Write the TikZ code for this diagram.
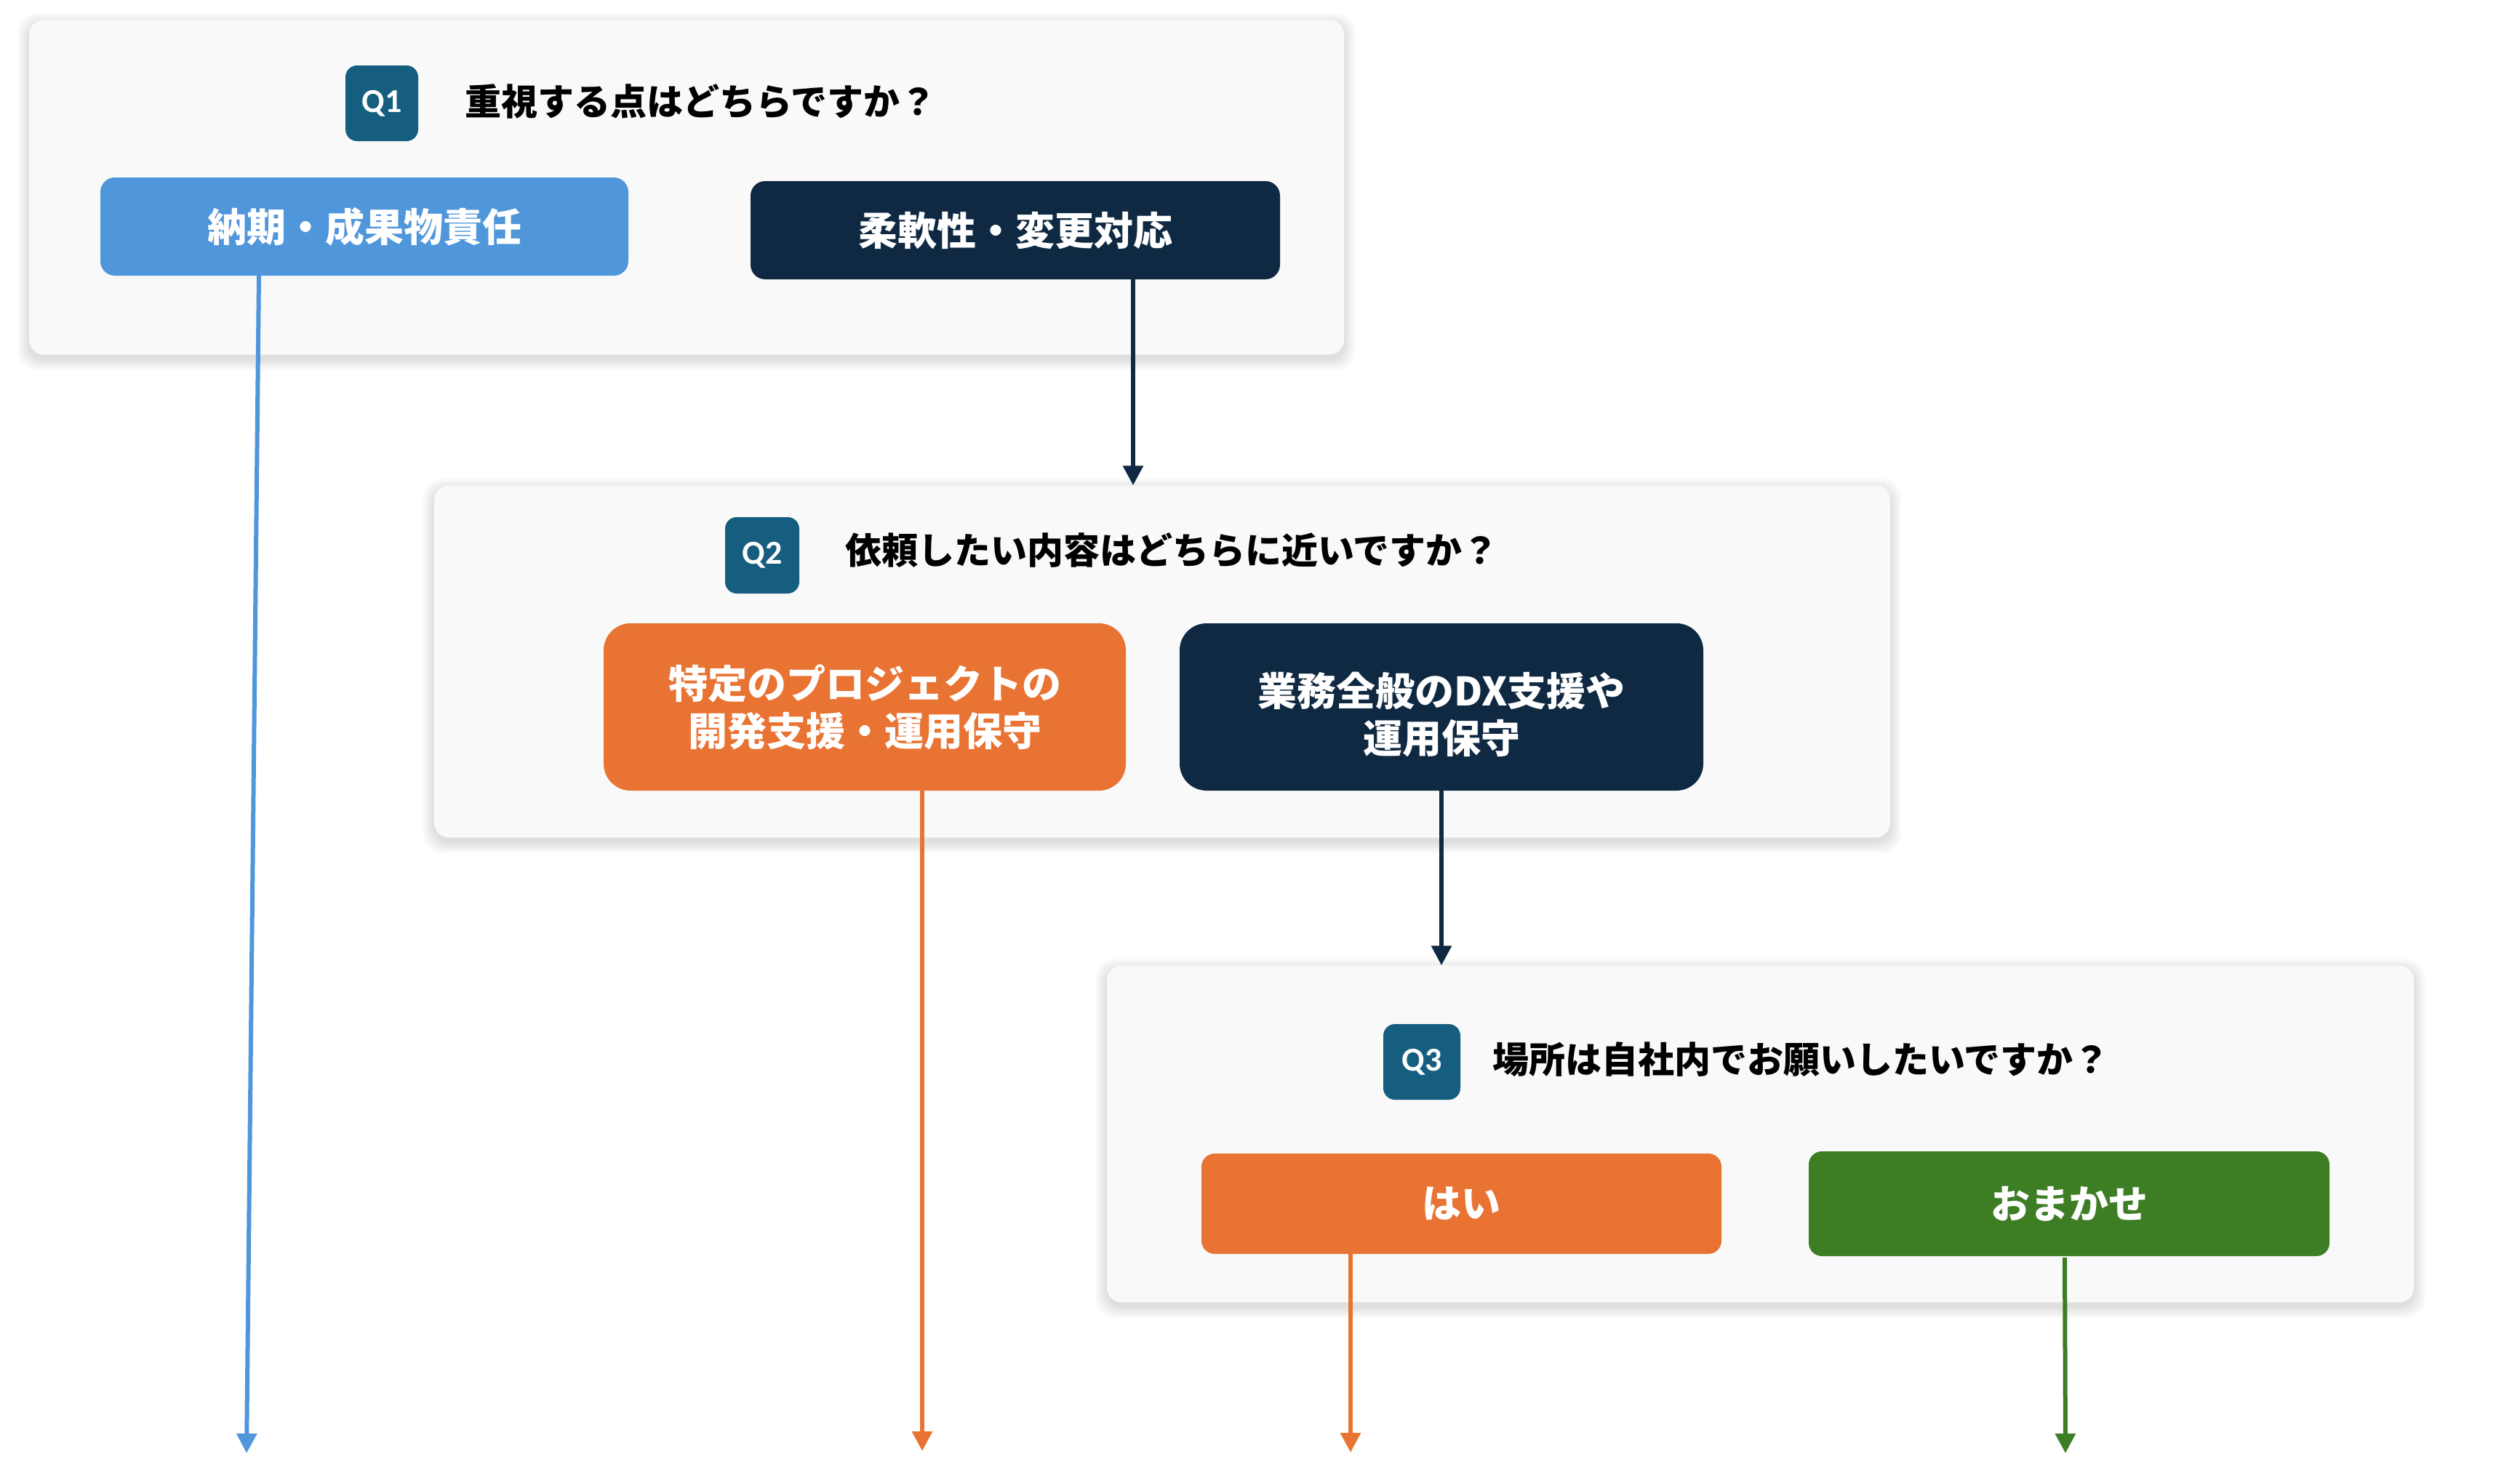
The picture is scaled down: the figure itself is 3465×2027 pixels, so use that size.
\documentclass[tikz,border=0pt]{standalone}
\usepackage{fontspec}
\setmainfont{Noto Sans CJK JP}
\newfontfamily\qfont{Carlito}
\usetikzlibrary{arrows.meta,calc}
\definecolor{panelbg}{HTML}{F9F9F9}
\definecolor{badgec}{HTML}{165E80}
\definecolor{cblue}{HTML}{5096DB}
\definecolor{cnavy}{HTML}{0F2942}
\definecolor{corange}{HTML}{E97333}
\definecolor{cgreen}{HTML}{3D7E24}
\pgfdeclarelayer{paper}
\pgfdeclarelayer{shade}
\pgfsetlayers{paper,shade,main}
\begin{document}
\begin{tikzpicture}[x=1pt,y=-1pt,
  panelbox/.style={fill=panelbg, rounded corners=20pt, inner sep=0pt},
  shadelayer/.style={fill=black, opacity=0.007, rounded corners=26pt},
  badgebox/.style={fill=badgec, rounded corners=16pt, inner sep=0pt, text=white,
    font=\qfont\bfseries\fontsize{46pt}{46pt}\selectfont},
  choice/.style={inner sep=0pt, text=white, align=center,
    font=\bfseries\fontsize{54pt}{65pt}\selectfont},
  choicetext/.style={inner sep=0pt, text=white, align=center,
    font=\bfseries\fontsize{54pt}{65pt}\selectfont},
  header/.style={anchor=base west, inner sep=0pt, text=black,
    font=\bfseries\fontsize{50pt}{60pt}\selectfont},
  conn/.style={line width=6pt, -{Triangle[width=27pt,length=27pt]}}
]
\useasboundingbox (0,0) rectangle (3465,2027);
\begin{pgfonlayer}{paper}
\fill[white] (0,0) rectangle (3465,2027);
\end{pgfonlayer}

% panels
\node[panelbox, minimum width=1808pt, minimum height=460pt] (p1) at (944,257.5) {};
\node[panelbox, minimum width=2002pt, minimum height=484pt] (p2) at (1598,909.5) {};
\node[panelbox, minimum width=1797pt, minimum height=463pt] (p3) at (2420.5,1559) {};

% soft shadows of the panels
\begin{pgfonlayer}{shade}
\foreach \p in {p1,p2,p3}{
  \foreach \i in {1,...,16}{
    \fill[shadelayer] ([xshift=-\i pt, yshift=\i pt - 6pt]\p.north west) rectangle ([xshift=\i pt, yshift=-\i pt - 6pt]\p.south east);
  }
}
\end{pgfonlayer}

% badges
\node[badgebox, minimum width=100pt, minimum height=104pt] (q1) at (525,142) {Q1};
\node[badgebox, minimum width=102pt, minimum height=105pt] (q2) at (1048,763.5) {Q2};
\node[badgebox, minimum width=106pt, minimum height=104pt] (q3) at (1955,1460) {Q3};

% headers
\node[header] (h1) at (639,158) {重視する点はどちらですか？};
\node[header] (h2) at (1162,775) {依頼したい内容はどちらに近いですか？};
\node[header] (h3) at (2052,1475) {場所は自社内でお願いしたいですか？};

% choices
\node[choice, fill=cblue, rounded corners=20pt, minimum width=726pt, minimum height=135pt] (b11) at (501,311.5) {納期・成果物責任};
\node[choice, fill=cnavy, rounded corners=20pt, minimum width=728pt, minimum height=135pt] (b12) at (1396,316.5) {柔軟性・変更対応};
\node[choice, fill=corange, rounded corners=37pt, minimum width=718pt, minimum height=230pt] (b21) at (1189,972) {特定のプロジェクトの\\開発支援・運用保守};
\node[choice, fill=cnavy, rounded corners=37pt, minimum width=720pt, minimum height=230pt] (b22) at (1982,972) {};
\node[choicetext] (b22t) at ([yshift=-10pt]b22.center) {業務全般のDX支援や\\運用保守};
\node[choice, fill=corange, rounded corners=18pt, minimum width=715pt, minimum height=138pt] (b31) at (2009.5,1655) {はい};
\node[choice, fill=cgreen, rounded corners=18pt, minimum width=716pt, minimum height=144pt] (b32) at (2845,1655) {おまかせ};

% free ends
\coordinate (e1) at (339,1998);
\coordinate (e2) at (1268,1995);
\coordinate (e3) at (1857,1997);
\coordinate (e4) at (2840,1998);

% connectors
\draw[conn, color=cnavy] ([xshift=162pt]b12.south) -- ([xshift=162pt]b12.south |- p2.north);
\draw[conn, color=cnavy] (b22.south) -- (b22.south |- p3.north);
\draw[conn, color=cblue] ([xshift=-145pt]b11.south) -- (e1);
\draw[conn, color=corange] ([xshift=79pt]b21.south) -- (e2);
\draw[conn, color=corange] ([xshift=-152.5pt]b31.south) -- (e3);
\draw[conn, color=cgreen] ([xshift=-6pt,yshift=-2pt]b32.south) -- (e4);
\end{tikzpicture}
\end{document}
